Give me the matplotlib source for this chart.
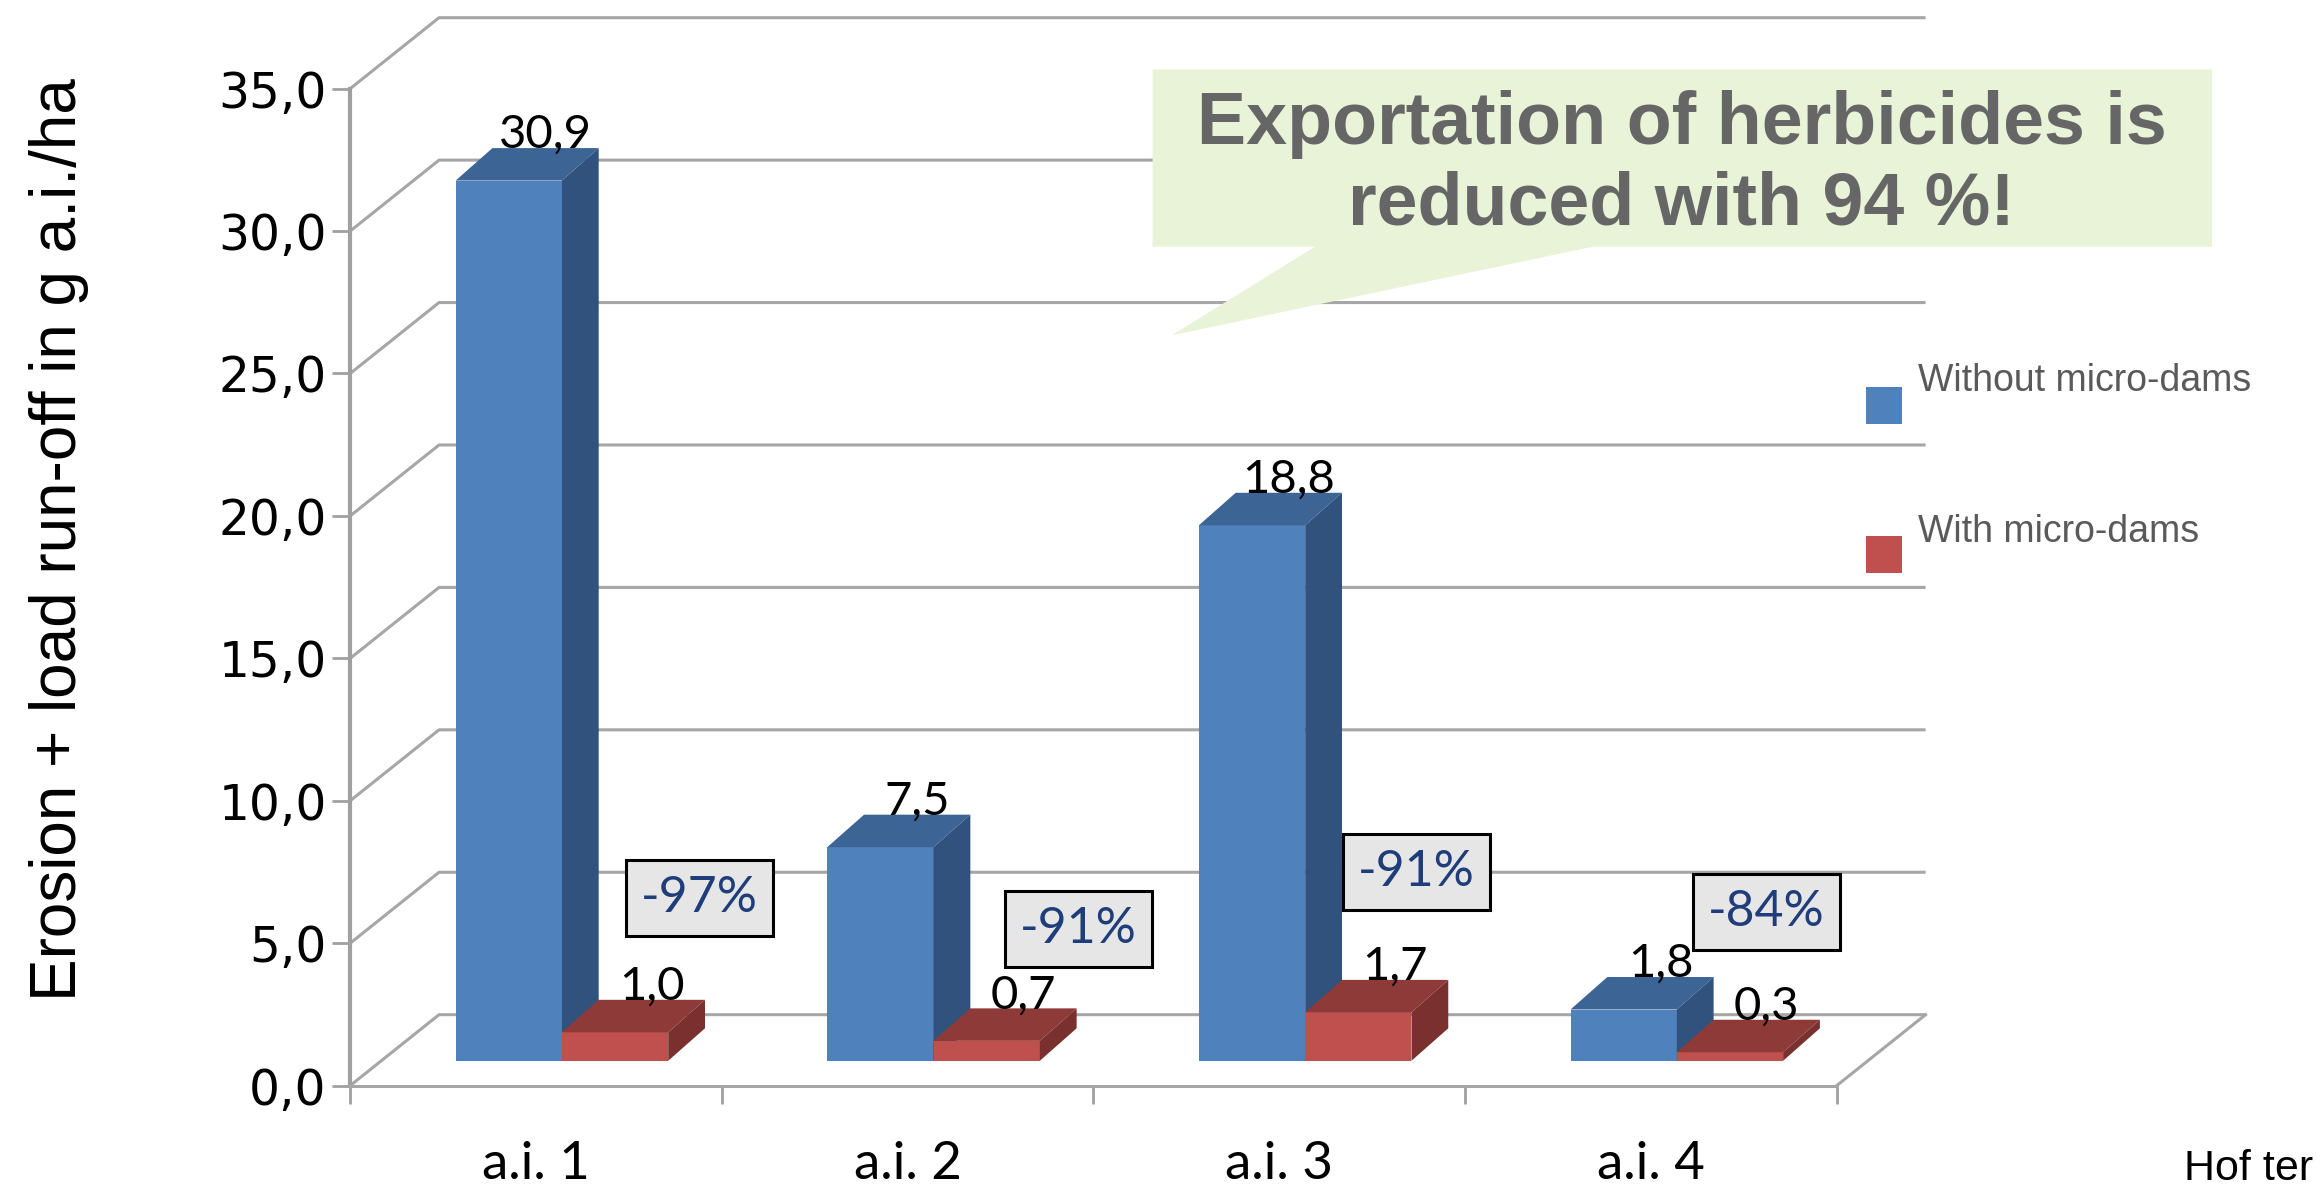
import numpy as np
import matplotlib.pyplot as plt
from matplotlib import font_manager
from matplotlib.patches import Polygon, Rectangle

categories = ['a.i. 1', 'a.i. 2', 'a.i. 3', 'a.i. 4']
without_dams = [30.9, 7.5, 18.8, 1.8]
with_dams = [1.0, 0.7, 1.7, 0.3]
reduction_labels = ['-97%', '-91%', '-91%', '-84%']
reduction_pos = [(0.94, 6.6), (1.96, 5.5), (2.87, 7.5), (3.81, 6.1)]
yticks = np.arange(0, 36, 5)

# fake 3d: depth of the floor and of the bars (data units)
DX, DY = 0.239, 2.49
F0 = 0.35
BDX, BDY = 0.099, 1.14
bar_w = 0.286
grid_col = '#a6a6a6'

installed = {f.name for f in font_manager.fontManager.ttflist}
if 'Liberation Sans Narrow' in installed:
    ylab_font, ylab_size = 'Liberation Sans Narrow', 55
else:
    ylab_font, ylab_size = 'Liberation Sans', 46

fig = plt.figure(figsize=(23.17, 11.89), dpi=100)
fig.patch.set_facecolor('white')
ax = fig.add_axes([0.15115, 0.08696, 0.64158, 0.83851])
ax.set_xlim(0, 4)
ax.set_ylim(0, 35)

# back wall grid
for v in yticks:
    ax.plot([0, DX, 4 + DX], [v, v + DY, v + DY], color=grid_col, lw=2.2,
            clip_on=False, zorder=1, solid_capstyle='butt')
ax.plot([4, 4 + DX], [0, DY], color=grid_col, lw=2.2, clip_on=False, zorder=1)


def draw_bars(x_faces, values, front, top, side):
    base = F0 * DY
    ax.bar(x_faces, values, bar_w, bottom=base, align='edge', color=front,
           zorder=3, clip_on=False)
    for xf, v in zip(x_faces, values):
        y1 = base + v
        ax.add_patch(Polygon([(xf, y1), (xf + bar_w, y1), (xf + bar_w + BDX, y1 + BDY),
                              (xf + BDX, y1 + BDY)], closed=True, fc=top, ec='none',
                             zorder=3, clip_on=False))
        ax.add_patch(Polygon([(xf + bar_w, base), (xf + bar_w + BDX, base + BDY),
                              (xf + bar_w + BDX, y1 + BDY), (xf + bar_w, y1)], closed=True,
                             fc=side, ec='none', zorder=3, clip_on=False))
        ax.text(xf + bar_w / 2 + BDX, y1 + BDY, f'{v:.1f}'.replace('.', ','),
                ha='center', va='baseline', fontsize=34, family='Lato', color='black',
                zorder=5)


x = np.arange(len(categories))
blue_x = x + 0.2 + F0 * DX
red_x = blue_x + bar_w
draw_bars(blue_x, without_dams, '#4F81BD', '#3C6494', '#31527D')
draw_bars(red_x, with_dams, '#C0504D', '#8E3A38', '#7A302E')

for lab, (px, py) in zip(reduction_labels, reduction_pos):
    ax.text(px, py, lab, ha='center', va='center', fontsize=36, family='Lato',
            color='#1F3D7A', zorder=6,
            bbox=dict(boxstyle='square,pad=0.3', fc='#E6E6E6', ec='black', lw=2.2))

# axes styling
for s in ['top', 'right']:
    ax.spines[s].set_visible(False)
ax.spines['left'].set_color('#a0a0a0')
ax.spines['left'].set_linewidth(3)
ax.spines['bottom'].set_color(grid_col)
ax.spines['bottom'].set_linewidth(2.2)
ax.set_yticks(yticks)
ax.set_yticklabels([f'{v:.1f}'.replace('.', ',') for v in yticks], family='DejaVu Sans')
ax.tick_params(axis='y', length=13, width=2, color='#a0a0a0', pad=4, labelsize=35)
ax.set_xticks(x + 0.5)
ax.set_xticklabels(categories, family='Lato')
ax.set_xticks(np.arange(0, 5), minor=True)
ax.tick_params(axis='x', which='major', length=0, pad=40, labelsize=38)
ax.tick_params(axis='x', which='minor', length=13, width=2, color='#a0a0a0')
ax.patch.set_alpha(0)

fig.text(0.0255, 0.5466, 'Erosion + load run-off in g a.i./ha', rotation=90,
         ha='center', va='center', fontsize=ylab_size, family=ylab_font, color='black')

# legend
fig.patches.append(Rectangle((0.8055, 0.6435), 0.0153, 0.031, transform=fig.transFigure,
                             fc='#4F81BD', ec='none', figure=fig))
fig.patches.append(Rectangle((0.8055, 0.518), 0.0153, 0.031, transform=fig.transFigure,
                             fc='#C0504D', ec='none', figure=fig))
fig.text(0.8278, 0.6795, 'Without micro-dams', ha='left', va='center', fontsize=27,
         family='Liberation Sans', color='#5a5a5a')
fig.text(0.8278, 0.5528, 'With micro-dams', ha='left', va='center', fontsize=27,
         family='Liberation Sans', color='#5a5a5a')

# callout
W, H = 1568, 805
callout = [(780, 47), (1497, 47), (1497, 167), (1078, 167), (793, 227), (890, 167), (780, 167)]
fig.patches.append(Polygon([(px / W, 1 - py / H) for px, py in callout], closed=True,
                           transform=fig.transFigure, fc='#E8F3D7', ec='none', figure=fig,
                           zorder=4))
fig.text(0.7258, 0.8615, 'Exportation of herbicides is\nreduced with 94 %!', ha='center',
         va='center', fontsize=53, fontweight='bold', family='Liberation Sans',
         color='#666666', linespacing=1.2, zorder=5)

fig.text(0.9425, 0.0335, 'Hof ter', ha='left', va='top', fontsize=31,
         family='Liberation Sans', color='black')

fig.savefig('out.png', dpi=100)
